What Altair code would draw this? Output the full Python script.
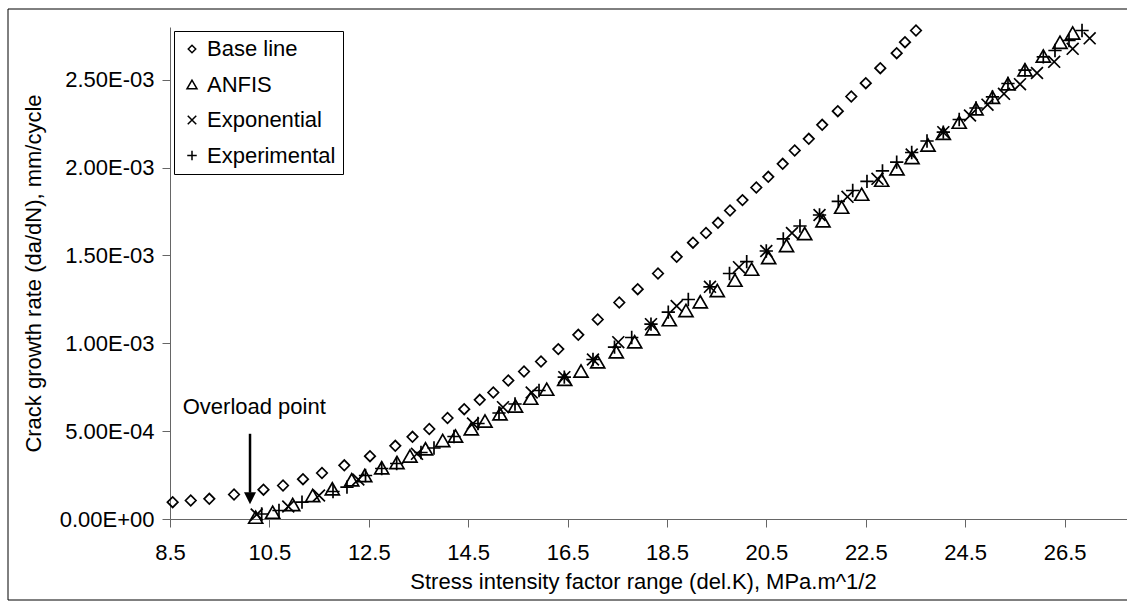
import altair as alt
import pandas as pd

# ---------------- data ----------------
series_names = ["Base line", "ANFIS", "Exponential", "Experimental"]

base_x = [8.554, 8.917, 9.291, 9.788, 10.381, 10.774, 11.176, 11.558, 12.007, 12.524,
          13.033, 13.379, 13.717, 14.084, 14.420, 14.732, 15.005, 15.307, 15.623, 15.965,
          16.313, 16.715, 17.106, 17.540, 17.911, 18.319, 18.695, 19.023, 19.285, 19.526,
          19.768, 20.019, 20.297, 20.538, 20.828, 21.070, 21.353, 21.623, 21.937, 22.208,
          22.500, 22.792, 23.122, 23.289, 23.510]
base_y = [0.956e-4, 1.053e-4, 1.150e-4, 1.394e-4, 1.667e-4, 1.906e-4, 2.265e-4, 2.618e-4, 3.056e-4, 3.574e-4,
          4.166e-4, 4.678e-4, 5.122e-4, 5.748e-4, 6.249e-4, 6.784e-4, 7.199e-4, 7.882e-4, 8.394e-4, 8.963e-4,
          9.669e-4, 10.483e-4, 11.353e-4, 12.321e-4, 13.078e-4, 13.971e-4, 14.922e-4, 15.724e-4, 16.276e-4, 16.856e-4,
          17.556e-4, 18.148e-4, 18.865e-4, 19.474e-4, 20.214e-4, 20.971e-4, 21.637e-4, 22.434e-4, 23.207e-4, 24.044e-4,
          24.801e-4, 25.654e-4, 26.508e-4, 27.134e-4, 27.800e-4]

anfis_x = [10.224, 10.566, 10.969, 11.371, 11.766, 12.156, 12.418, 12.760, 13.067, 13.329,
           13.641, 13.987, 14.245, 14.562, 14.838, 15.140, 15.452, 15.758, 16.080, 16.442,
           16.770, 17.106, 17.480, 17.850, 18.213, 18.547, 18.882, 19.170, 19.512, 19.868,
           20.204, 20.546, 20.905, 21.271, 21.639, 22.015, 22.418, 22.820, 23.128, 23.430,
           23.752, 24.060, 24.380, 24.718, 25.049, 25.361, 25.703, 26.072, 26.408, 26.663]
anfis_y = [0.102e-4, 0.387e-4, 0.825e-4, 1.337e-4, 1.719e-4, 2.231e-4, 2.476e-4, 2.914e-4, 3.215e-4, 3.585e-4,
           3.995e-4, 4.467e-4, 4.723e-4, 5.133e-4, 5.577e-4, 5.987e-4, 6.431e-4, 6.875e-4, 7.387e-4, 7.950e-4,
           8.423e-4, 8.946e-4, 9.515e-4, 10.084e-4, 10.824e-4, 11.342e-4, 11.866e-4, 12.361e-4, 13.004e-4, 13.590e-4,
           14.216e-4, 14.882e-4, 15.565e-4, 16.247e-4, 16.970e-4, 17.744e-4, 18.484e-4, 19.281e-4, 19.930e-4, 20.573e-4,
           21.284e-4, 21.955e-4, 22.582e-4, 23.344e-4, 24.004e-4, 24.767e-4, 25.569e-4, 26.349e-4, 27.134e-4, 27.658e-4]

expo_x = [10.244, 10.880, 11.498, 12.289, 13.470, 14.597, 15.200, 15.778, 16.434, 17.011,
          17.520, 18.178, 18.695, 19.365, 19.949, 20.498, 21.015, 21.569, 22.132, 22.735,
          23.424, 24.060, 24.597, 24.949, 25.281, 25.603, 25.945, 26.291, 26.663, 27.005]
expo_y = [0.256e-4, 0.711e-4, 1.337e-4, 2.248e-4, 3.710e-4, 5.435e-4, 6.362e-4, 7.199e-4, 8.070e-4, 9.077e-4,
          10.061e-4, 11.086e-4, 12.122e-4, 13.214e-4, 14.330e-4, 15.252e-4, 16.276e-4, 17.300e-4, 18.336e-4, 19.360e-4,
          20.743e-4, 22.012e-4, 22.963e-4, 23.577e-4, 24.198e-4, 24.744e-4, 25.381e-4, 26.019e-4, 26.759e-4, 27.356e-4]

expt_x = [10.345, 10.693, 11.156, 11.780, 12.061, 12.434, 12.760, 13.061, 13.550, 13.812,
          14.214, 14.697, 15.120, 15.442, 15.925, 16.434, 17.011, 17.444, 17.790, 18.178,
          18.526, 18.929, 19.365, 19.758, 20.104, 20.498, 20.840, 21.176, 21.569, 21.947,
          22.237, 22.524, 22.836, 23.122, 23.424, 23.732, 24.060, 24.380, 24.718, 25.049,
          25.361, 25.703, 26.072, 26.307, 26.589, 26.851]
expt_y = [0.285e-4, 0.484e-4, 0.956e-4, 1.565e-4, 1.810e-4, 2.476e-4, 2.874e-4, 3.158e-4, 3.784e-4, 4.041e-4,
          4.695e-4, 5.435e-4, 6.032e-4, 6.545e-4, 7.313e-4, 8.070e-4, 9.077e-4, 9.777e-4, 10.329e-4, 11.086e-4,
          11.769e-4, 12.492e-4, 13.214e-4, 13.971e-4, 14.643e-4, 15.252e-4, 15.946e-4, 16.674e-4, 17.300e-4, 18.080e-4,
          18.695e-4, 19.218e-4, 19.816e-4, 20.305e-4, 20.857e-4, 21.512e-4, 22.012e-4, 22.735e-4, 23.390e-4, 24.027e-4,
          24.784e-4, 25.541e-4, 26.303e-4, 26.662e-4, 27.231e-4, 27.800e-4]

x_ticks = [8.5, 10.5, 12.5, 14.5, 16.5, 18.5, 20.5, 22.5, 24.5, 26.5]
y_ticks = [0.0, 0.0005, 0.0010, 0.0015, 0.0020, 0.0025]
y_tick_labels = ["0.00E+00", "5.00E-04", "1.00E-03", "1.50E-03", "2.00E-03", "2.50E-03"]

# annotation
note_text = ["Overload point"]
note_x = [8.756]
note_y = [6.36e-4]
arrow_x = [10.11]
arrow_top = [4.85e-4]
arrow_bottom = [1.5e-4]
arrow_head_y = [1.18e-4]

# ---------------- build table ----------------
rows = []
for name, xs, ys in [("Base line", base_x, base_y), ("ANFIS", anfis_x, anfis_y),
                     ("Exponential", expo_x, expo_y), ("Experimental", expt_x, expt_y)]:
    for xv, yv in zip(xs, ys):
        rows.append({"series": name, "K": xv, "rate": yv})
df = pd.DataFrame(rows)

FONT = "Liberation Sans"
shape_range = [
    "M-0.75,0L0,-0.75L0.75,0L0,0.75Z",
    "M0,-0.866L-1,0.866L1,0.866Z",
    "M-0.85,-0.85L0.85,0.85M-0.85,0.85L0.85,-0.85",
    "M-0.95,0L0.95,0M0,-0.95L0,0.95",
]

label_expr = "[" + ",".join("'%s'" % s for s in y_tick_labels) + "][round(datum.value / 0.0005)]"

x_scale = alt.Scale(domain=[8.5, 27.756], nice=False, zero=False)
y_scale = alt.Scale(domain=[0, 0.0028], nice=False, zero=False)

frame = alt.Chart(pd.DataFrame({"a": [0]})).mark_rect(
    fillOpacity=0, stroke="black", strokeWidth=1
).encode(
    x=alt.value(-162), x2=alt.value(1000), y=alt.value(-18), y2=alt.value(573)
)

points = alt.Chart(df).mark_point(
    filled=False, color="black", strokeWidth=1.7, size=196, opacity=1
).encode(
    x=alt.X("K:Q", scale=x_scale,
            axis=alt.Axis(values=x_ticks, format=".1f",
                          title="Stress intensity factor range (del.K), MPa.m^1/2",
                          titleX=473, titleY=62, titleBaseline="middle", titleAlign="center",
                          labelPadding=15, labelFlush=False, labelOverlap=False)),
    y=alt.Y("rate:Q", scale=y_scale,
            axis=alt.Axis(values=y_ticks, labelExpr=label_expr,
                          title="Crack growth rate (da/dN), mm/cycle",
                          titleX=-137, titleY=246, titleAngle=270, titleBaseline="middle",
                          titleAlign="center", labelPadding=8, labelOverlap=False)),
    shape=alt.Shape("series:N", scale=alt.Scale(domain=series_names, range=shape_range),
                    legend=alt.Legend(title=None, orient="none", legendX=4, legendY=4,
                                      direction="vertical", padding=7,
                                      strokeColor="black", fillColor="white",
                                      labelFont=FONT, labelFontSize=22, labelColor="black",
                                      symbolSize=100, symbolStrokeWidth=1.5,
                                      symbolStrokeColor="black", symbolOffset=0,
                                      labelOffset=4, rowPadding=13.5)),
)

note = alt.Chart(pd.DataFrame({"x": note_x, "y": note_y, "t": note_text})).mark_text(
    align="left", baseline="middle", font=FONT, fontSize=22, color="black"
).encode(x=alt.X("x:Q", scale=x_scale), y=alt.Y("y:Q", scale=y_scale), text="t:N")

arrow = alt.Chart(pd.DataFrame({"x": arrow_x, "y1": arrow_top, "y2": arrow_bottom})).mark_rule(
    color="black", strokeWidth=2.5
).encode(x=alt.X("x:Q", scale=x_scale), y=alt.Y("y1:Q", scale=y_scale), y2="y2:Q")

head = alt.Chart(pd.DataFrame({"x": arrow_x, "y": arrow_head_y})).mark_point(
    shape="M-1,-1L1,-1L0,1Z", filled=True, color="black", size=144, opacity=1
).encode(x=alt.X("x:Q", scale=x_scale), y=alt.Y("y:Q", scale=y_scale))

chart = alt.layer(frame, points, arrow, head, note).properties(
    width=957, height=492,
    padding={"left": 170, "top": 27, "right": 0, "bottom": 88},
    autosize=alt.AutoSizeParams(type="none"),
    background="white",
).configure_view(stroke=None).configure_axis(
    grid=False,
    labelFont=FONT, labelFontSize=22, labelColor="black",
    titleFont=FONT, titleFontSize=22, titleFontWeight="normal", titleColor="black",
    tickSize=8, tickColor="#666666", domainColor="#666666", domainWidth=1, tickWidth=1,
)

chart.save("out.html", embed_options={"renderer": "svg", "actions": False})
